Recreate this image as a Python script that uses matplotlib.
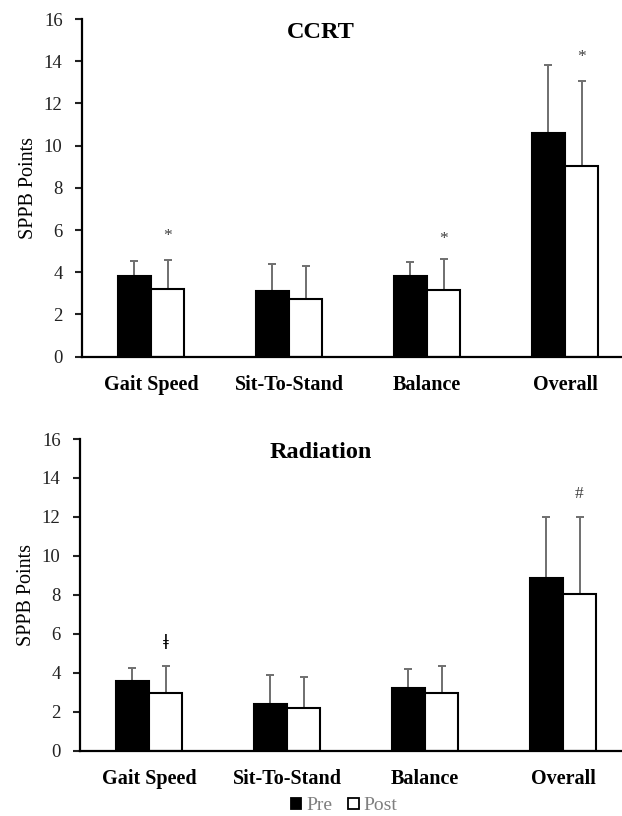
import numpy as np
import matplotlib
matplotlib.use("Agg")
import matplotlib.pyplot as plt
from matplotlib.patches import Patch

categories = ['Gait Speed', 'Sit-To-Stand', 'Balance', 'Overall']

# CCRT group
ccrt_pre = [3.8, 3.1, 3.8, 10.6]
ccrt_pre_sd = [0.75, 1.3, 0.7, 3.2]
ccrt_post = [3.22, 2.72, 3.18, 9.05]
ccrt_post_sd = [1.38, 1.59, 1.43, 4.0]
ccrt_marks = ['*', '', '*', '*']
ccrt_mark_y = [5.7, 0, 5.6, 14.2]

# Radiation group
rad_pre = [3.6, 2.4, 3.2, 8.85]
rad_pre_sd = [0.65, 1.47, 0.98, 3.15]
rad_post = [2.98, 2.21, 2.98, 8.04]
rad_post_sd = [1.35, 1.59, 1.38, 3.96]
rad_marks = ['ǂ', '', '', '#']
rad_mark_y = [5.5, 0, 0, 13.2]

yticks = [0, 2, 4, 6, 8, 10, 12, 14, 16]

serif = ['Liberation Serif', 'DejaVu Serif']
plt.rcParams['font.family'] = serif
err_color = '#6f6f6f'


def draw_panel(ax, title, pre, pre_sd, post, post_sd, marks, mark_y, title_y):
    x = np.arange(len(categories))
    w = 0.24
    ax.bar(x - w / 2, pre, w, color='black', edgecolor='black', linewidth=1.5,
           zorder=2)
    ax.bar(x + w / 2, post, w, color='white', edgecolor='black', linewidth=1.5,
           zorder=2)
    ax.errorbar(x - w / 2, pre, yerr=[np.zeros(len(pre)), pre_sd], fmt='none',
                ecolor=err_color, elinewidth=1.4, capsize=3.2, capthick=1.4,
                zorder=1)
    ax.errorbar(x + w / 2, post, yerr=[np.zeros(len(post)), post_sd], fmt='none',
                ecolor=err_color, elinewidth=1.4, capsize=3.2, capthick=1.4,
                zorder=1)
    for xi, m, my in zip(x, marks, mark_y):
        if m == 'ǂ':
            ax.text(xi + w / 2, my, m, ha='center', va='center', fontsize=15,
                    color='black', fontweight='bold', family=serif)
        elif m:
            ax.text(xi + w / 2, my, m, ha='center', va='center', fontsize=12.5,
                    color='#404040', family=serif)

    ax.set_xlim(-0.5, 3.5)
    ax.set_ylim(0, 16)
    ax.set_yticks(yticks)
    ax.set_xticks(x)
    ax.set_xticklabels(categories, fontsize=14.5, fontweight='bold')
    ax.tick_params(axis='x', length=0, pad=13)
    ax.tick_params(axis='y', labelsize=13.5, length=5, width=1.5,
                   direction='out', pad=9, colors='#222222')
    ax.spines['top'].set_visible(False)
    ax.spines['right'].set_visible(False)
    ax.spines['left'].set_linewidth(1.6)
    ax.spines['bottom'].set_linewidth(1.6)
    ax.set_ylabel('SPPB Points', fontsize=14.5)
    ax.yaxis.set_label_coords(-44 / 552, 0.5)
    ax.figure.text(0.515, title_y, title, ha='center', va='center',
                   fontsize=17.5, fontweight='bold')


fig = plt.figure(figsize=(6.22, 8.16), dpi=100)
ax1 = fig.add_axes([82 / 622, 1 - 356.7 / 816, 552 / 622, (356.7 - 19) / 816])
ax2 = fig.add_axes([80 / 622, 1 - 750.7 / 816, 552 / 622, (750.7 - 439) / 816])

draw_panel(ax1, 'CCRT', ccrt_pre, ccrt_pre_sd, ccrt_post, ccrt_post_sd,
           ccrt_marks, ccrt_mark_y, 1 - 32 / 816)
draw_panel(ax2, 'Radiation', rad_pre, rad_pre_sd, rad_post, rad_post_sd,
           rad_marks, rad_mark_y, 1 - 452 / 816)

handles = [Patch(facecolor='black', edgecolor='black', linewidth=1.3),
           Patch(facecolor='white', edgecolor='black', linewidth=1.3)]
leg = fig.legend(handles, ['Pre', 'Post'], loc='center',
                 bbox_to_anchor=(344 / 622, 1 - 806 / 816), ncol=2, frameon=False,
                 fontsize=14, handlelength=0.55, handleheight=0.55,
                 handletextpad=0.25, columnspacing=0.8, labelcolor='#7f7f7f',
                 borderpad=0)

fig.savefig('out.png', dpi=100)
